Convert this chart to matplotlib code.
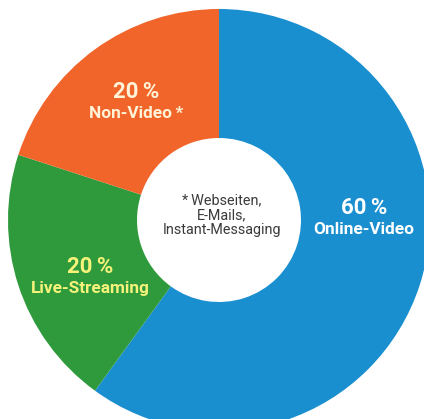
import matplotlib
matplotlib.use("Agg")
import matplotlib.pyplot as plt

categories = ["Online-Video", "Live-Streaming", "Non-Video\u2009*"]
values = [60, 20, 20]
pct_labels = ["60\u2009%", "20\u2009%", "20\u2009%"]
colors = ["#1a8fd0", "#2f9a3c", "#f1652a"]
text_colors = ["#ffffff", "#f6f27a", "#fff4d8"]
center_note = "*\u2009Webseiten,\nE-Mails,\nInstant-Messaging"

W, H = 424, 419
fig = plt.figure(figsize=(W / 100, H / 100), dpi=100)
ax = fig.add_axes([0, 0, 1, 1])

cx, cy = 219, H - 220
R = 211
ax.pie(values, colors=colors, startangle=90, counterclock=False,
       center=(cx, cy), radius=R, frame=True,
       wedgeprops=dict(width=R - 82, edgecolor="none"))
ax.set_xlim(0, W)
ax.set_ylim(0, H)
ax.set_aspect("equal")
ax.axis("off")

# label positions (pixels from top-left)
pos = [(364, 208, 230), (90, 267, 289), (136, 92, 113)]
font = ["Roboto", "DejaVu Sans"]
for (x, y1, y2), p, c, tc in zip(pos, pct_labels, categories, text_colors):
    ax.text(x, H - y1, p, ha="center", va="center", fontsize=16,
            fontweight="bold", color=tc, family=font)
    ax.text(x, H - y2, c, ha="center", va="center", fontsize=12.4,
            fontweight="bold", color=tc, family=font)

ax.text(222, H - 215, center_note, ha="center", va="center", fontsize=10.4,
        color="#3a3a3a", family=font, linespacing=1.1)

fig.savefig("out.png", dpi=100)
